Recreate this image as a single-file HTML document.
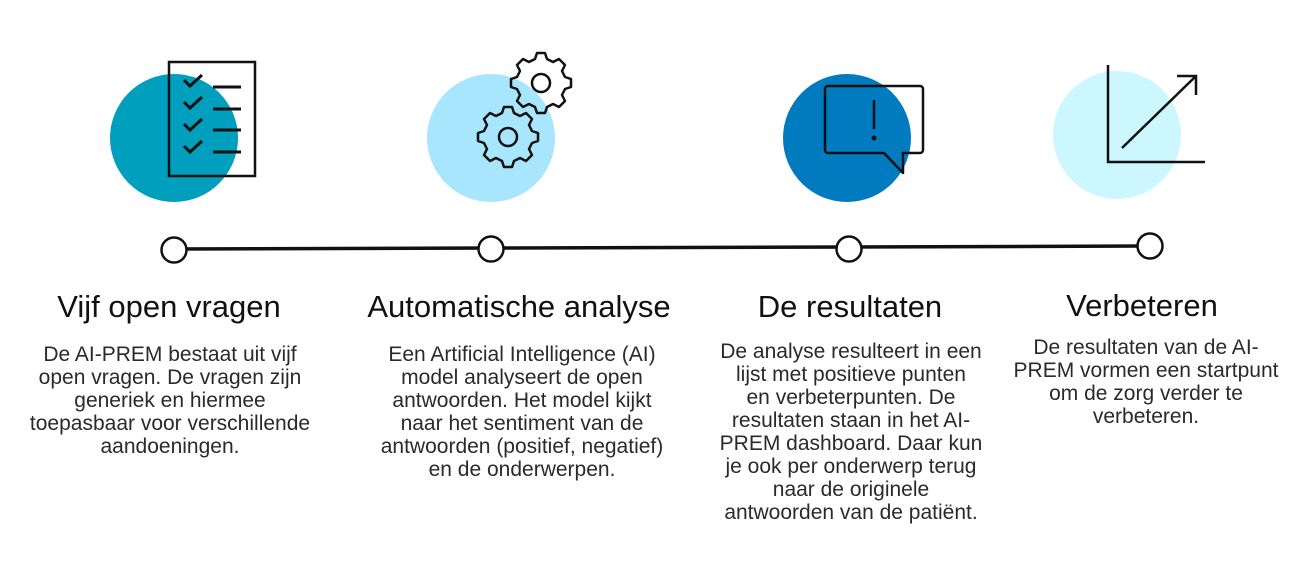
<!DOCTYPE html>
<html><head><meta charset="utf-8"><style>
html,body{margin:0;padding:0;background:#fff;}
svg{display:block;}
text{font-family:"Liberation Sans",sans-serif;fill:#111;}
.t{font-size:31px;}
.b{font-size:21px;fill:#2a2a2a;}
</style></head><body>
<svg width="1306" height="574" viewBox="0 0 1306 574" xmlns="http://www.w3.org/2000/svg">
<circle cx="174" cy="138" r="64" fill="#009fbd"/>
<circle cx="491" cy="138" r="64" fill="#a8e6fd"/>
<circle cx="847" cy="138" r="64" fill="#007bc0"/>
<circle cx="1117" cy="135" r="64" fill="#ccf7fe"/>

<g fill="none" stroke="#111" stroke-width="2.5">
<rect x="169" y="62" width="86" height="114"/>
<g stroke-width="3">
<path d="M184 80 l6 6 l12 -11"/><path d="M184 102 l6 6 l12 -11"/><path d="M184 124 l6 6 l12 -11"/><path d="M184 146 l6 6 l12 -11"/>
<path d="M213 87 h28 M213 109 h28 M213 130 h28 M213 152 h28"/>
</g>
</g>

<g fill="none" stroke="#111" stroke-width="2.5" stroke-linejoin="round">
<path id="g1" d="M504 107 h8 l2 6 l6 3 l6 -3 l6 6 l-3 6 l3 6 l6 2 v8 l-6 2 l-3 6 l3 6 l-6 6 l-6 -3 l-6 3 l-2 6 h-8 l-2 -6 l-6 -3 l-6 3 l-6 -6 l3 -6 l-3 -6 l-6 -2 v-8 l6 -2 l3 -6 l-3 -6 l6 -6 l6 3 l6 -3 z"/>
<circle cx="508" cy="137" r="9"/>
<use href="#g1" transform="translate(33,-54)"/>
<circle cx="541" cy="83" r="9"/>
</g>

<g fill="none" stroke="#111" stroke-width="2.5" stroke-linejoin="round">
<path d="M828 86 H920 a3 3 0 0 1 3 3 V150 a3 3 0 0 1 -3 3 H903 V173 L884 153 H828 a3 3 0 0 1 -3 -3 V89 a3 3 0 0 1 3 -3 z"/>
<path d="M874 100 V129"/>
</g>
<circle cx="874" cy="138" r="2.5" fill="#111"/>

<g fill="none" stroke="#111" stroke-width="2.5">
<path d="M1108 65 V162 H1205"/>
<path d="M1122 148 L1196 76 M1177 76 H1196 V95"/>
</g>

<path d="M174 249 L491 248 L849 247 L1150 246" stroke="#111" stroke-width="3.5" fill="none"/>
<g fill="#fff" stroke="#111" stroke-width="2.5">
<circle cx="174" cy="250" r="12.5"/>
<circle cx="491" cy="249" r="12.5"/>
<circle cx="849" cy="249" r="12.5"/>
<circle cx="1150" cy="246" r="12.5"/>
</g>

<g text-anchor="middle">
<text class="t" x="169" y="317">Vijf open vragen</text>
<text class="b" x="170" y="361">De AI-PREM bestaat uit vijf</text>
<text class="b" x="170" y="384">open vragen. De vragen zijn</text>
<text class="b" x="170" y="407">generiek en hiermee</text>
<text class="b" x="170" y="430">toepasbaar voor verschillende</text>
<text class="b" x="170" y="453">aandoeningen.</text>

<text class="t" x="519" y="317">Automatische analyse</text>
<text class="b" x="522" y="361">Een Artificial Intelligence (AI)</text>
<text class="b" x="522" y="384">model analyseert de open</text>
<text class="b" x="522" y="407">antwoorden. Het model kijkt</text>
<text class="b" x="522" y="430">naar het sentiment van de</text>
<text class="b" x="522" y="453">antwoorden (positief, negatief)</text>
<text class="b" x="522" y="476">en de onderwerpen.</text>

<text class="t" x="850" y="317">De resultaten</text>
<text class="b" x="851" y="358">De analyse resulteert in een</text>
<text class="b" x="851" y="381">lijst met positieve punten</text>
<text class="b" x="851" y="404">en verbeterpunten. De</text>
<text class="b" x="851" y="427">resultaten staan in het AI-</text>
<text class="b" x="851" y="450">PREM dashboard. Daar kun</text>
<text class="b" x="851" y="473">je ook per onderwerp terug</text>
<text class="b" x="851" y="496">naar de originele</text>
<text class="b" x="851" y="519">antwoorden van de patiënt.</text>

<text class="t" x="1142" y="316">Verbeteren</text>
<text class="b" x="1146" y="354">De resultaten van de AI-</text>
<text class="b" x="1146" y="377">PREM vormen een startpunt</text>
<text class="b" x="1146" y="400">om de zorg verder te</text>
<text class="b" x="1146" y="423">verbeteren.</text>
</g>
</svg>
</body></html>
